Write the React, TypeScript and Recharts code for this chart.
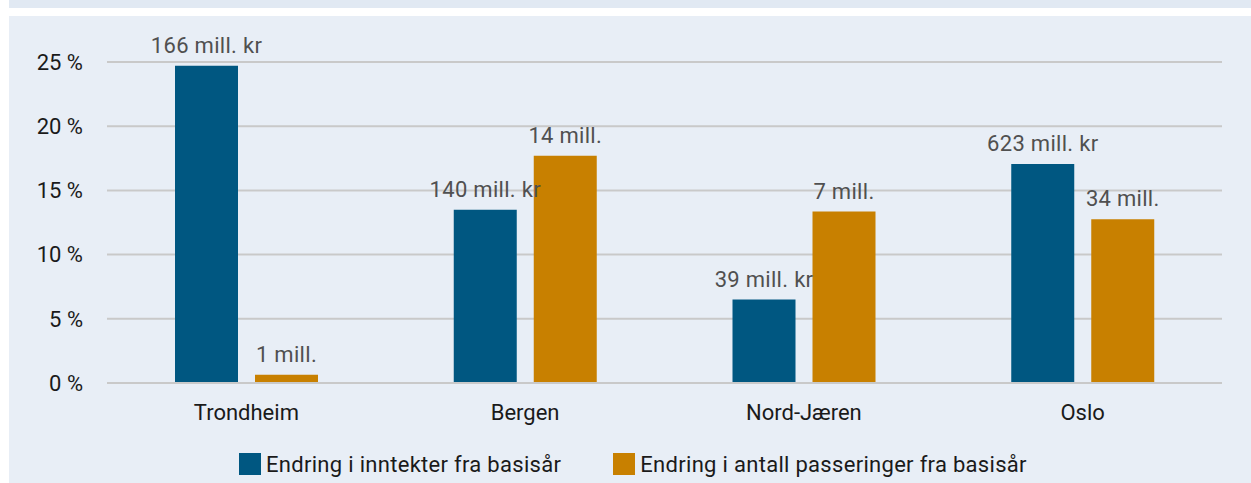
import React from "react";
import { BarChart, Bar, XAxis, YAxis, CartesianGrid, Legend, LabelList } from "recharts";

const categories = ["Trondheim", "Bergen", "Nord-Jæren", "Oslo"];
const incomeChange = [24.7, 13.5, 6.5, 17.05];
const passChange = [0.65, 17.7, 13.35, 12.75];
const incomeLabels = ["166 mill. kr", "140 mill. kr", "39 mill. kr", "623 mill. kr"];
const passLabels = ["1 mill.", "14 mill.", "7 mill.", "34 mill."];
const yTicks = [0, 5, 10, 15, 20, 25];
const seriesNames = ["Endring i inntekter fra basisår", "Endring i antall passeringer fra basisår"];

const BLUE = "#005781";
const ORANGE = "#c88000";
const FONT = "Roboto, sans-serif";

const data = categories.map((c, i) => ({
  name: c,
  income: incomeChange[i],
  pass: passChange[i],
  incomeLabel: incomeLabels[i],
  passLabel: passLabels[i],
}));

const BarLabel = (props: any) => {
  const { x, y, width, value } = props;
  return (
    <text
      x={Number(x) + Number(width) / 2}
      y={Number(y) - 13}
      textAnchor="middle"
      fontFamily={FONT}
      fontSize={22}
      fill="#505050"
      style={{ letterSpacing: 0.3 }}
    >
      {value}
    </text>
  );
};

const LegendContent = () => (
  <div style={{ display: "flex", justifyContent: "flex-start", paddingLeft: 230, height: 30, alignItems: "center", fontFamily: FONT, fontSize: 22, color: "#1a1a1a", letterSpacing: 0.3 }}>
    {[BLUE, ORANGE].map((col, i) => (
      <div key={i} style={{ display: "flex", alignItems: "center", marginRight: 52 }}>
        <div style={{ width: 22, height: 22, background: col, marginRight: 5 }} />
        <span>{seriesNames[i]}</span>
      </div>
    ))}
  </div>
);

export default function App() {
  return (
    <div style={{ position: "absolute", left: 0, top: 0, width: 1251, height: 483, background: "#fff", overflow: "hidden" }}>
      <div style={{ position: "absolute", left: 9, top: 0, width: 1242, height: 8, background: "#e1e9f3" }} />
      <div style={{ position: "absolute", left: 9, top: 16, width: 1242, height: 467, background: "#e8eef6" }}>
        <BarChart
          width={1242}
          height={467}
          data={data}
          margin={{ top: 46, right: 29, bottom: 4, left: 0 }}
          barGap={17}
          barSize={63}
        >
          <CartesianGrid vertical={false} stroke="#c9c9c9" strokeWidth={2} />
          <XAxis
            dataKey="name"
            axisLine={{ stroke: "#c9c9c9", strokeWidth: 2 }}
            tickLine={false}
            tickSize={0}
            tickMargin={21}
            height={66}
            tick={{ fontFamily: FONT, fontSize: 22, fill: "#1a1a1a" }}
          />
          <YAxis
            domain={[0, 25]}
            ticks={yTicks}
            width={98}
            axisLine={false}
            tickLine={false}
            tickSize={0}
            tickMargin={24}
            tickFormatter={(v: number) => `${v} %`}
            tick={{ fontFamily: FONT, fontSize: 22, fill: "#1a1a1a" }}
          />
          <Legend verticalAlign="bottom" height={30} content={<LegendContent />} />
          <Bar dataKey="income" fill={BLUE} isAnimationActive={false}>
            <LabelList dataKey="incomeLabel" content={<BarLabel />} />
          </Bar>
          <Bar dataKey="pass" fill={ORANGE} isAnimationActive={false}>
            <LabelList dataKey="passLabel" content={<BarLabel />} />
          </Bar>
        </BarChart>
      </div>
    </div>
  );
}
